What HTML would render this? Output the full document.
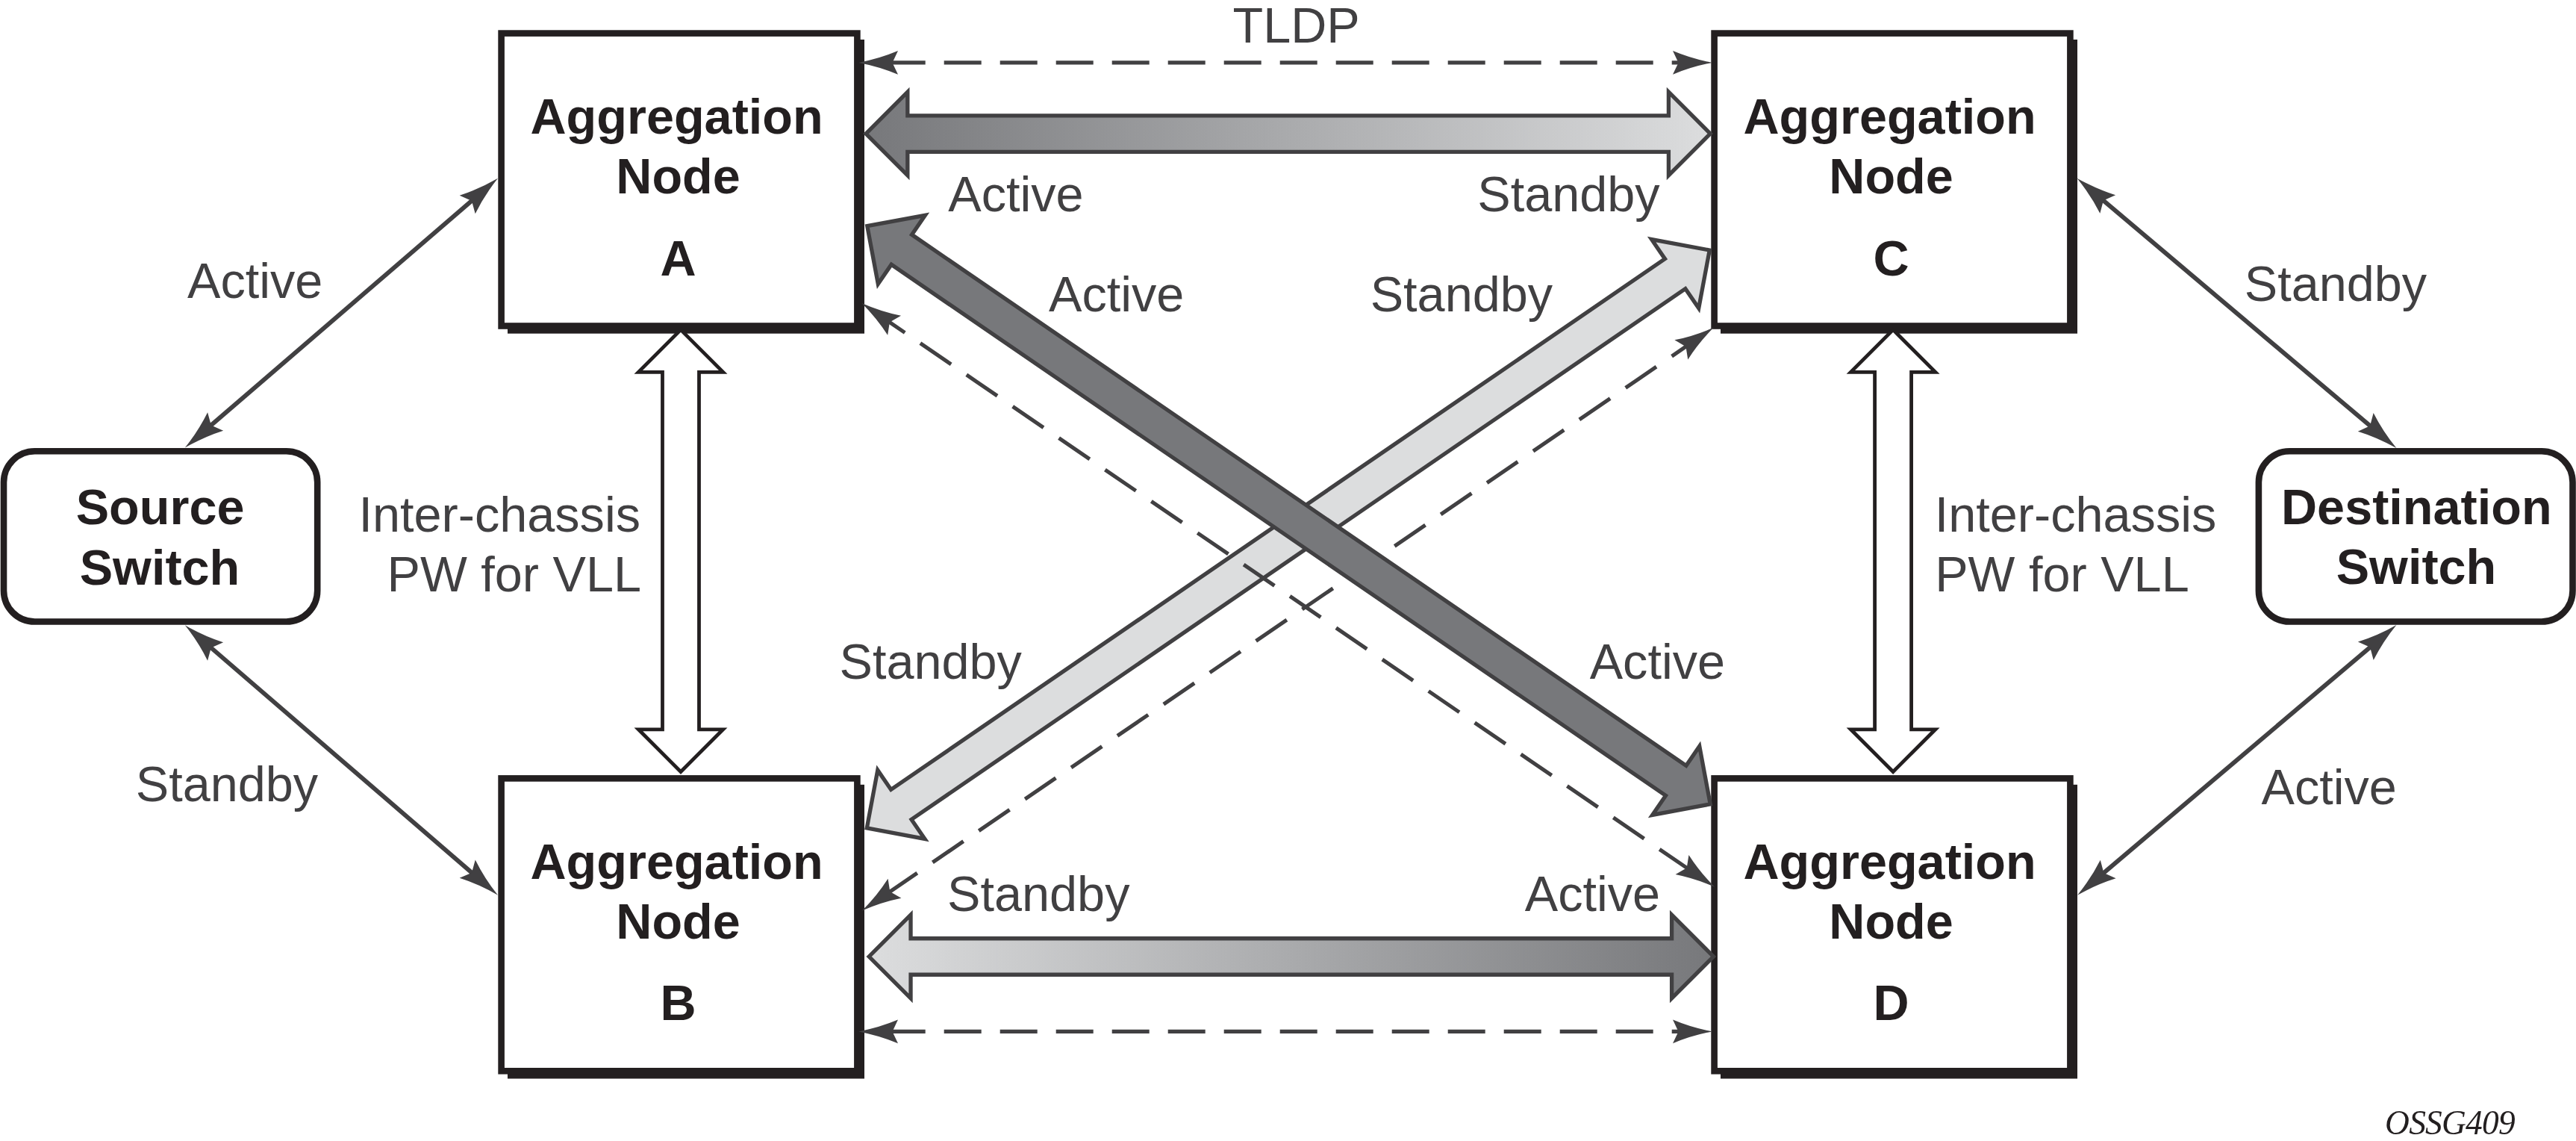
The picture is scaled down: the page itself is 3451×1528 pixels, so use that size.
<!DOCTYPE html>
<html lang="en"><head><meta charset="utf-8"><title>OSSG409</title>
<style>html,body{margin:0;padding:0;background:#fff;}body{width:3451px;height:1528px;overflow:hidden;}svg{display:block;will-change:transform;}text{font-family:"Liberation Sans",sans-serif;}.ser{font-family:"Liberation Serif",serif;font-style:italic;}</style>
</head><body>
<svg width="3451" height="1528" viewBox="0 0 3451 1528">
<defs>
<linearGradient id="gTop" x1="0" y1="0" x2="1" y2="0"><stop offset="0" stop-color="#77787b"/><stop offset="1" stop-color="#dcddde"/></linearGradient>
<linearGradient id="gBot" x1="0" y1="0" x2="1" y2="0"><stop offset="0" stop-color="#dcddde"/><stop offset="1" stop-color="#77787b"/></linearGradient>
</defs>
<rect width="3451" height="1528" fill="#fff"/>
<rect x="680" y="53" width="478" height="393.7" fill="#231f20"/>
<rect x="671.6" y="44.6" width="476.8" height="391.9" fill="#fff" stroke="#231f20" stroke-width="8.6"/>
<rect x="680" y="1050.8" width="478" height="393.7" fill="#231f20"/>
<rect x="671.6" y="1042.4" width="476.8" height="391.9" fill="#fff" stroke="#231f20" stroke-width="8.6"/>
<rect x="2305" y="53" width="478" height="393.7" fill="#231f20"/>
<rect x="2296.6" y="44.6" width="476.8" height="391.9" fill="#fff" stroke="#231f20" stroke-width="8.6"/>
<rect x="2305" y="1050.8" width="478" height="393.7" fill="#231f20"/>
<rect x="2296.6" y="1042.4" width="476.8" height="391.9" fill="#fff" stroke="#231f20" stroke-width="8.6"/>
<rect x="5" y="604.3" width="420.2" height="228.2" rx="41.5" ry="41.5" fill="#fff" stroke="#231f20" stroke-width="8.6"/>
<rect x="3025.9" y="604.3" width="420.6" height="228.2" rx="41.5" ry="41.5" fill="#fff" stroke="#231f20" stroke-width="8.6"/>
<path d="M3.75,0 L59.6,-55.8 L59.6,-24.25 L1316.64,-24.25 L1316.64,-55.8 L1372.49,0 L1316.64,55.8 L1316.64,24.25 L59.6,24.25 L59.6,55.8 Z" fill="#dcddde" stroke="#414042" stroke-width="5.3" stroke-linejoin="miter" stroke-miterlimit="10" transform="translate(1158.2 1111.1) rotate(-34.43)"/>
<line x1="2264.49" y1="1165.51" x2="1189.01" y2="429.59" stroke="#414042" stroke-width="5.1" stroke-dasharray="50 25"/>
<path d="M1.8,0 Q-26,-5.2 -51,-15.8 L-43.5,0 L-51,15.8 Q-26,5.2 1.8,0 Z" fill="#414042" transform="translate(1156 407) rotate(-145.62)"/>
<path d="M1.8,0 Q-26,-5.2 -51,-15.8 L-43.5,0 L-51,15.8 Q-26,5.2 1.8,0 Z" fill="#414042" transform="translate(2295.6 1186.8) rotate(34.38)"/>
<line x1="1187.51" y1="1197.3" x2="2261.39" y2="462.19" stroke="#414042" stroke-width="5.1" stroke-dasharray="50 25"/>
<path d="M1.8,0 Q-26,-5.2 -51,-15.8 L-43.5,0 L-51,15.8 Q-26,5.2 1.8,0 Z" fill="#414042" transform="translate(2294.4 439.6) rotate(-34.39)"/>
<path d="M1.8,0 Q-26,-5.2 -51,-15.8 L-43.5,0 L-51,15.8 Q-26,5.2 1.8,0 Z" fill="#414042" transform="translate(1156.4 1218.6) rotate(145.61)"/>
<path d="M3.75,0 L59.6,-55.8 L59.6,-24.25 L1317.25,-24.25 L1317.25,-55.8 L1373.1,0 L1317.25,55.8 L1317.25,24.25 L59.6,24.25 L59.6,55.8 Z" fill="#77787b" stroke="#414042" stroke-width="5.3" stroke-linejoin="miter" stroke-miterlimit="10" transform="translate(1158.7 300.6) rotate(34.43)"/>
<line x1="1189.7" y1="83.9" x2="2252" y2="83.9" stroke="#414042" stroke-width="5.1" stroke-dasharray="50 25"/>
<path d="M1.8,0 Q-26,-5.2 -51,-15.8 L-43.5,0 L-51,15.8 Q-26,5.2 1.8,0 Z" fill="#414042" transform="translate(2292 83.9) rotate(0)"/>
<path d="M1.8,0 Q-26,-5.2 -51,-15.8 L-43.5,0 L-51,15.8 Q-26,5.2 1.8,0 Z" fill="#414042" transform="translate(1152 83.9) rotate(180)"/>
<line x1="1189.7" y1="1381.4" x2="2252" y2="1381.4" stroke="#414042" stroke-width="5.1" stroke-dasharray="50 25"/>
<path d="M1.8,0 Q-26,-5.2 -51,-15.8 L-43.5,0 L-51,15.8 Q-26,5.2 1.8,0 Z" fill="#414042" transform="translate(2292 1381.4) rotate(0)"/>
<path d="M1.8,0 Q-26,-5.2 -51,-15.8 L-43.5,0 L-51,15.8 Q-26,5.2 1.8,0 Z" fill="#414042" transform="translate(1152 1381.4) rotate(180)"/>
<path d="M3.75,0 L59.6,-55.8 L59.6,-24.25 L1079.15,-24.25 L1079.15,-55.8 L1135,0 L1079.15,55.8 L1079.15,24.25 L59.6,24.25 L59.6,55.8 Z" fill="url(#gTop)" stroke="#414042" stroke-width="5.3" stroke-linejoin="miter" stroke-miterlimit="10" transform="translate(1156.25 179.05) rotate(0)"/>
<path d="M3.75,0 L59.6,-55.8 L59.6,-24.25 L1079.15,-24.25 L1079.15,-55.8 L1135,0 L1079.15,55.8 L1079.15,24.25 L59.6,24.25 L59.6,55.8 Z" fill="url(#gBot)" stroke="#414042" stroke-width="5.3" stroke-linejoin="miter" stroke-miterlimit="10" transform="translate(1160.45 1281) rotate(0)"/>
<g transform="translate(912 0)">
<path d="M0,441.6 L56.7,498.3 L24.5,498.3 L24.5,976.8 L56.7,976.8 L0,1033.5 L-56.7,976.8 L-24.5,976.8 L-24.5,498.3 L-56.7,498.3 Z" fill="#fff" stroke="#231f20" stroke-width="4.8" stroke-miterlimit="10"/>
</g>
<g transform="translate(2536.1 0)">
<path d="M0,441.6 L56.7,498.3 L24.5,498.3 L24.5,976.8 L56.7,976.8 L0,1033.5 L-56.7,976.8 L-24.5,976.8 L-24.5,498.3 L-56.7,498.3 Z" fill="#fff" stroke="#231f20" stroke-width="4.8" stroke-miterlimit="10"/>
</g>
<line x1="279.52" y1="572.31" x2="635.28" y2="266.09" stroke="#414042" stroke-width="5.9"/>
<path d="M1.8,0 Q-26,-5.2 -51,-15.8 L-43.5,0 L-51,15.8 Q-26,5.2 1.8,0 Z" fill="#414042" transform="translate(665.6 240) rotate(-40.72) scale(1.02)"/>
<path d="M1.8,0 Q-26,-5.2 -51,-15.8 L-43.5,0 L-51,15.8 Q-26,5.2 1.8,0 Z" fill="#414042" transform="translate(249.2 598.4) rotate(139.28) scale(1.02)"/>
<line x1="279.49" y1="864.62" x2="635.31" y2="1171.48" stroke="#414042" stroke-width="5.9"/>
<path d="M1.8,0 Q-26,-5.2 -51,-15.8 L-43.5,0 L-51,15.8 Q-26,5.2 1.8,0 Z" fill="#414042" transform="translate(665.6 1197.6) rotate(40.77) scale(1.02)"/>
<path d="M1.8,0 Q-26,-5.2 -51,-15.8 L-43.5,0 L-51,15.8 Q-26,5.2 1.8,0 Z" fill="#414042" transform="translate(249.2 838.5) rotate(220.77) scale(1.02)"/>
<line x1="3178.44" y1="573.09" x2="2814.56" y2="265.71" stroke="#414042" stroke-width="5.9"/>
<path d="M1.8,0 Q-26,-5.2 -51,-15.8 L-43.5,0 L-51,15.8 Q-26,5.2 1.8,0 Z" fill="#414042" transform="translate(2784 239.9) rotate(-139.81) scale(1.02)"/>
<path d="M1.8,0 Q-26,-5.2 -51,-15.8 L-43.5,0 L-51,15.8 Q-26,5.2 1.8,0 Z" fill="#414042" transform="translate(3209 598.9) rotate(40.19) scale(1.02)"/>
<line x1="3178.48" y1="863.95" x2="2815.02" y2="1171.75" stroke="#414042" stroke-width="5.9"/>
<path d="M1.8,0 Q-26,-5.2 -51,-15.8 L-43.5,0 L-51,15.8 Q-26,5.2 1.8,0 Z" fill="#414042" transform="translate(2784.5 1197.6) rotate(139.74) scale(1.02)"/>
<path d="M1.8,0 Q-26,-5.2 -51,-15.8 L-43.5,0 L-51,15.8 Q-26,5.2 1.8,0 Z" fill="#414042" transform="translate(3209 838.1) rotate(319.74) scale(1.02)"/>
<text x="906.6" y="179.1" font-size="66.6" fill="#231f20" text-anchor="middle" font-weight="bold">Aggregation</text>
<text x="908.6" y="259.2" font-size="66.6" fill="#231f20" text-anchor="middle" font-weight="bold">Node</text>
<text x="908.6" y="368.5" font-size="66.6" fill="#231f20" text-anchor="middle" font-weight="bold">A</text>
<text x="906.6" y="1176.9" font-size="66.6" fill="#231f20" text-anchor="middle" font-weight="bold">Aggregation</text>
<text x="908.6" y="1257" font-size="66.6" fill="#231f20" text-anchor="middle" font-weight="bold">Node</text>
<text x="908.6" y="1366.3" font-size="66.6" fill="#231f20" text-anchor="middle" font-weight="bold">B</text>
<text x="2531.6" y="179.1" font-size="66.6" fill="#231f20" text-anchor="middle" font-weight="bold">Aggregation</text>
<text x="2533.6" y="259.2" font-size="66.6" fill="#231f20" text-anchor="middle" font-weight="bold">Node</text>
<text x="2533.6" y="368.5" font-size="66.6" fill="#231f20" text-anchor="middle" font-weight="bold">C</text>
<text x="2531.6" y="1176.9" font-size="66.6" fill="#231f20" text-anchor="middle" font-weight="bold">Aggregation</text>
<text x="2533.6" y="1257" font-size="66.6" fill="#231f20" text-anchor="middle" font-weight="bold">Node</text>
<text x="2533.6" y="1366.3" font-size="66.6" fill="#231f20" text-anchor="middle" font-weight="bold">D</text>
<text x="214.6" y="701.6" font-size="66.6" fill="#231f20" text-anchor="middle" font-weight="bold">Source</text>
<text x="214" y="782.5" font-size="66.6" fill="#231f20" text-anchor="middle" font-weight="bold">Switch</text>
<text x="3237.3" y="702.1" font-size="66.6" fill="#231f20" text-anchor="middle" font-weight="bold">Destination</text>
<text x="3237" y="781.7" font-size="66.6" fill="#231f20" text-anchor="middle" font-weight="bold">Switch</text>
<text x="1651.5" y="56.9" font-size="66.6" fill="#414042">TLDP</text>
<text x="251" y="399" font-size="66.6" fill="#414042">Active</text>
<text x="1270.3" y="283.3" font-size="66.6" fill="#414042">Active</text>
<text x="1979.3" y="283.3" font-size="66.6" fill="#414042">Standby</text>
<text x="1405" y="417.2" font-size="66.6" fill="#414042">Active</text>
<text x="1835.7" y="417.2" font-size="66.6" fill="#414042">Standby</text>
<text x="3006.8" y="402.6" font-size="66.6" fill="#414042">Standby</text>
<text x="858" y="711.5" font-size="66.6" fill="#414042" text-anchor="end">Inter-chassis</text>
<text x="859" y="791.9" font-size="66.6" fill="#414042" text-anchor="end">PW for VLL</text>
<text x="2591.8" y="711.5" font-size="66.6" fill="#414042">Inter-chassis</text>
<text x="2592.2" y="791.9" font-size="66.6" fill="#414042">PW for VLL</text>
<text x="1124.5" y="909.1" font-size="66.6" fill="#414042">Standby</text>
<text x="2129.7" y="909.1" font-size="66.6" fill="#414042">Active</text>
<text x="181.8" y="1073" font-size="66.6" fill="#414042">Standby</text>
<text x="3029.5" y="1076.5" font-size="66.6" fill="#414042">Active</text>
<text x="1269.1" y="1219.7" font-size="66.6" fill="#414042">Standby</text>
<text x="2042.8" y="1219.7" font-size="66.6" fill="#414042">Active</text>
<text x="3195.1" y="1518.7" font-size="45.5" fill="#231f20" class="ser" letter-spacing="-0.8">OSSG409</text>
</svg>
</body></html>
